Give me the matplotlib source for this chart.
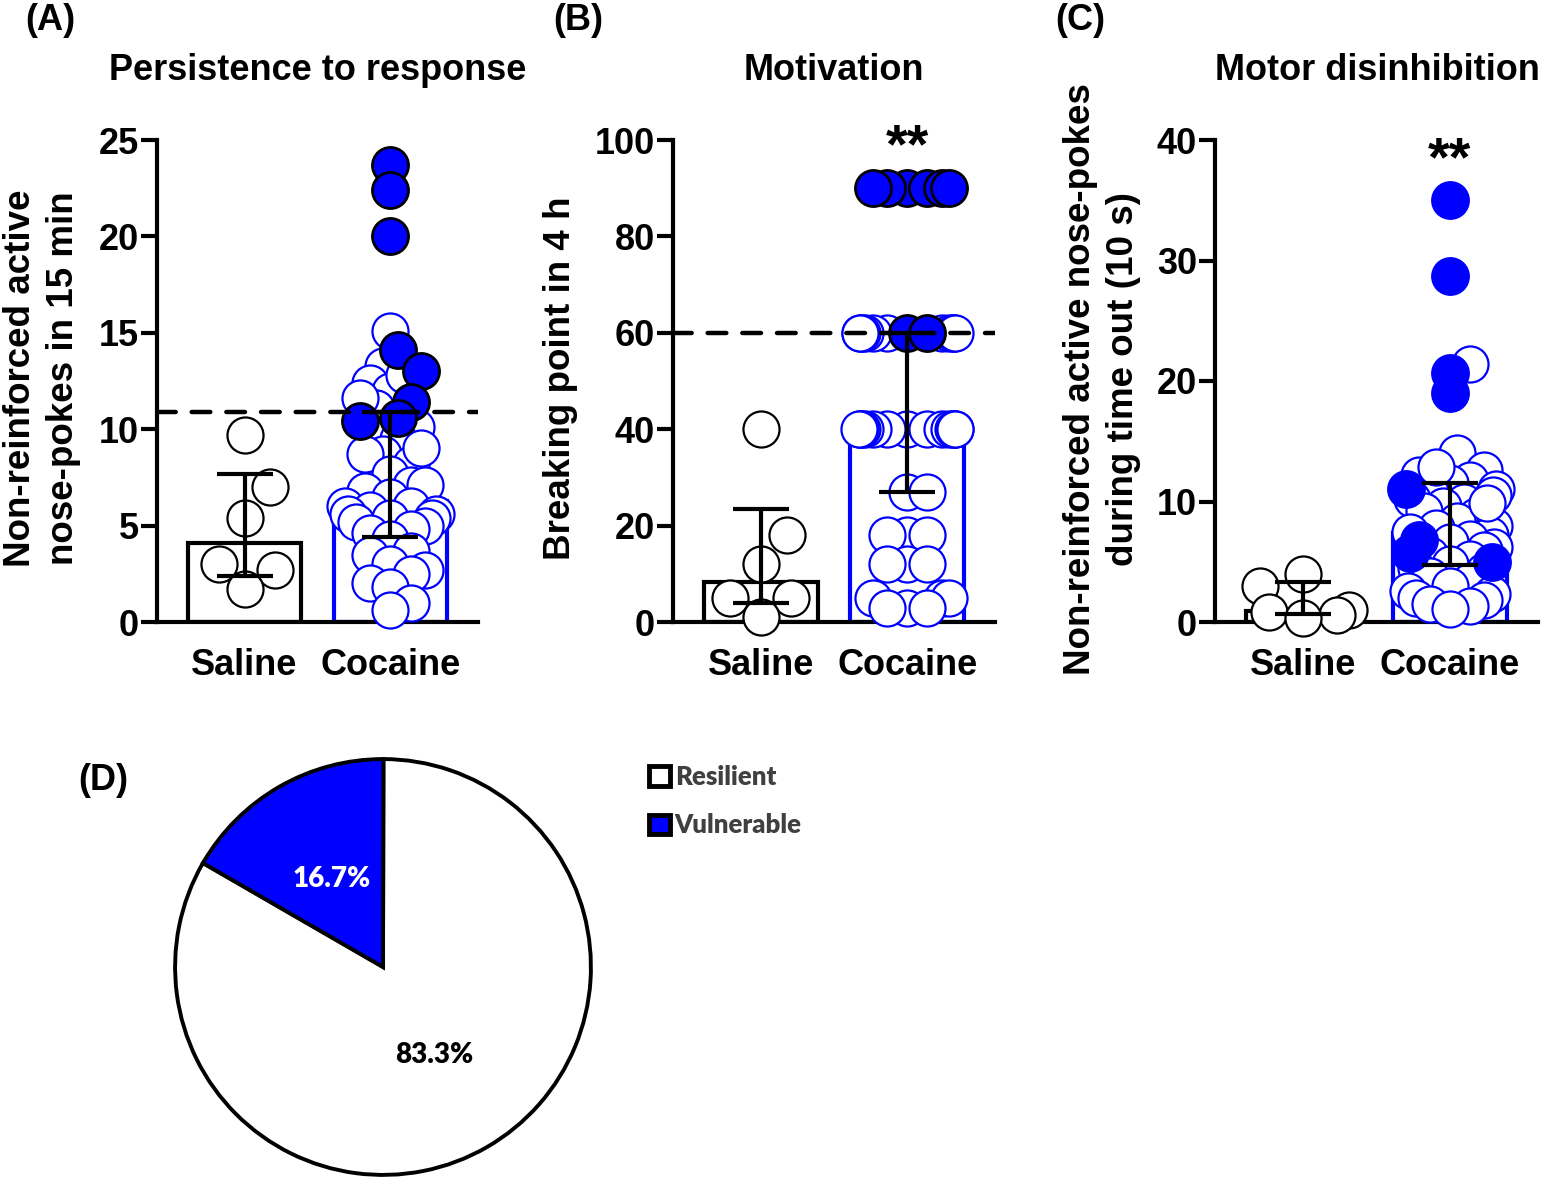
import numpy as np
import matplotlib
matplotlib.use("Agg")
import matplotlib.pyplot as plt
from matplotlib.patches import Patch

BLUE = "#0000ff"
W, H = 1546, 1183

plt.rcParams["font.family"] = ["Liberation Sans", "DejaVu Sans"]
plt.rcParams["font.weight"] = "bold"

GROUPS = ["Saline", "Cocaine"]

# (A) persistence to response
A_SAL = [9.7, 7.0, 5.4, 3.0, 2.7, 1.7]
A_COC_OPEN = [15.1, 13.3, 12.4, 12.0, 11.1, 10.1, 10.0, 9.5, 8.7, 8.7, 8.2, 7.7, 7.1, 7.1,
              6.8, 6.5, 6.0, 6.0, 5.8, 5.6, 5.6, 5.4, 5.4, 5.2, 5.0, 4.8, 4.6, 4.3, 3.7, 3.5,
              3.0, 2.7, 2.5, 2.0, 1.8, 1.0, 0.6, 12.8, 11.6, 9.0]
A_COC_VULN = [23.7, 22.4, 20.0, 14.1, 13.0, 11.4, 10.6, 10.4]
A_MEDIAN = [4.1, 6.3]
A_IQR_LOW = [2.4, 4.4]
A_IQR_HIGH = [7.7, 10.9]
A_THRESHOLD = 10.9

# (B) motivation
B_SAL = [40, 18, 12, 5, 5, 1]
B_COC_OPEN = [60] * 11 + [40] * 15 + [27] * 2 + [18] * 3 + [12] * 3 + [5] * 3 + [3] * 3
B_COC_VULN = [90] * 6 + [60] * 2
B_MEDIAN = [8.3, 40]
B_IQR_LOW = [4, 27]
B_IQR_HIGH = [23.5, 60]
B_THRESHOLD = 60

# (C) motor disinhibition
C_SAL = [4.0, 3.0, 1.0, 0.8, 0.6, 0.3]
C_COC_OPEN = [21.4, 14.0, 12.6, 12.2, 11.8, 11.5, 11.0, 10.8, 10.5, 10.2, 10.0, 9.6, 9.2, 8.8,
              8.4, 8.0, 7.8, 7.5, 7.2, 6.9, 6.6, 6.2, 6.0, 5.6, 5.2, 4.8, 4.5, 4.2, 3.8, 3.4,
              3.0, 2.6, 2.3, 2.0, 1.8, 1.5, 1.3, 1.1, 12.9, 9.9]
C_COC_VULN = [35.0, 28.7, 20.7, 19.0, 11.0, 6.8, 5.7, 5.0]
C_MEDIAN = [0.9, 7.4]
C_IQR_LOW = [0.7, 4.7]
C_IQR_HIGH = [3.3, 11.5]

# (D) pie
PIE_LABELS = ["Resilient", "Vulnerable"]
PIE_VALUES = [83.3, 16.7]

DIAM = 36  # marker diameter, px


def swarm(values, px_x, px_y, limit=48, near=0.55):
    values = np.asarray(values, dtype=float)
    offs = np.zeros(len(values))
    placed = []
    step = DIAM * 0.2
    cands = [0.0] + [s * j * step for j in range(1, 100) for s in (1, -1)]
    for i in np.argsort(values, kind="stable"):
        y = values[i] * px_y
        for c in cands:
            if all((c - px) ** 2 + (y - py) ** 2 >= (DIAM * near) ** 2 for px, py in placed):
                break
        placed.append((c, y))
        offs[i] = c
    offs = limit * np.tanh(offs / limit)
    return offs / px_x


def panel(rect, sal, coc_open, coc_vuln, med, lo, hi, ymax, step, vuln_edge, thr=None):
    ax = fig.add_axes(rect)
    ax.set_xlim(-0.6, 1.6)
    ax.set_ylim(0, ymax)
    px_x = rect[2] * W / 2.2
    px_y = rect[3] * H / ymax
    size = DIAM ** 2 * 0.52

    ax.bar([0, 1], med, width=0.775, facecolor="white", edgecolor=["black", BLUE],
           linewidth=3, zorder=1)

    xs = swarm(sal, px_x, px_y, near=1.05)
    ax.scatter(xs, sal, s=size, facecolor="white", edgecolor="black",
               linewidth=1.6, zorder=3, clip_on=False)

    allc = list(coc_vuln) + list(coc_open)
    xc = 1 + swarm(allc, px_x, px_y)
    nv = len(coc_vuln)
    ax.scatter(xc[nv:], coc_open, s=size, facecolor="white", edgecolor=BLUE,
               linewidth=1.6, zorder=3, clip_on=False)
    ax.scatter(xc[:nv], coc_vuln, s=size, facecolor=BLUE, edgecolor=vuln_edge,
               linewidth=2, zorder=4, clip_on=False)

    med = np.array(med)
    ax.errorbar([0, 1], med, yerr=[med - np.array(lo), np.array(hi) - med], fmt="none",
                ecolor="black", elinewidth=3, capsize=20, capthick=3, zorder=6)
    if thr is not None:
        ax.axhline(thr, color="black", linewidth=3.2, linestyle=(0, (4.2, 3.6)),
                   dash_capstyle="round", zorder=5)

    for s in ("top", "right"):
        ax.spines[s].set_visible(False)
    for s in ("left", "bottom"):
        ax.spines[s].set_linewidth(3)
    ticks = np.arange(0, ymax + 0.1, step)
    ax.set_yticks(ticks)
    ax.set_yticklabels([f"{int(v)}" for v in ticks])
    ax.tick_params(axis="y", length=11.5, width=3, pad=1.5, labelsize=26)
    ax.set_xticks([0, 1])
    ax.set_xticklabels(GROUPS)
    ax.tick_params(axis="x", length=0, pad=19, labelsize=26)
    for t in ax.get_xticklabels() + ax.get_yticklabels():
        t.set_fontweight("bold")
    return ax


fig = plt.figure(figsize=(W / 100, H / 100), dpi=100)


def frect(l, r, b, t):
    return [l / W, 1 - b / H, (r - l) / W, (b - t) / H]


axA = panel(frect(157, 478, 622, 140), A_SAL, A_COC_OPEN, A_COC_VULN, A_MEDIAN, A_IQR_LOW,
            A_IQR_HIGH, 25, 5, "black", A_THRESHOLD)
axB = panel(frect(673, 995, 622, 140), B_SAL, B_COC_OPEN, B_COC_VULN, B_MEDIAN, B_IQR_LOW,
            B_IQR_HIGH, 100, 20, "black", B_THRESHOLD)
axC = panel(frect(1215, 1538, 622, 140), C_SAL, C_COC_OPEN, C_COC_VULN, C_MEDIAN, C_IQR_LOW,
            C_IQR_HIGH, 40, 10, BLUE)

# titles, labels
for x, txt in [(318, "Persistence to response"), (834, "Motivation"), (1377, "Motor disinhibition")]:
    fig.text(x / W, 1 - 71 / H, txt, ha="center", va="center", fontsize=26, fontweight="bold")
for x, y, txt in [(25, 21, "(A)"), (553, 21, "(B)"), (1055, 21, "(C)"), (78, 781, "(D)")]:
    fig.text(x / W, 1 - y / H, txt, ha="left", va="center", fontsize=26, fontweight="bold")

fig.text(42 / W, 1 - 378 / H, "Non-reinforced active\nnose-pokes in 15 min", rotation=90,
         ha="center", va="center", fontsize=26.5, fontweight="bold", linespacing=1.3)
fig.text(560 / W, 1 - 378 / H, "Breaking point in 4 h", rotation=90,
         ha="center", va="center", fontsize=26.5, fontweight="bold")
fig.text(1102 / W, 1 - 379 / H, "Non-reinforced active nose-pokes\nduring time out (10 s)",
         rotation=90, ha="center", va="center", fontsize=26.5, fontweight="bold", linespacing=1.3)

axB.text(1, 92.8, "**", ha="center", va="bottom", fontsize=40, fontweight="bold")
axC.text(1, 36.1, "**", ha="center", va="bottom", fontsize=40, fontweight="bold")

# pie
axD = fig.add_axes(frect(173, 593, 1177, 757))
wedges, texts, autotexts = axD.pie(
    PIE_VALUES, colors=["white", BLUE], startangle=150, autopct="%1.1f%%", pctdistance=0.49,
    wedgeprops=dict(edgecolor="black", linewidth=2.8),
    textprops=dict(family=["Lato", "DejaVu Sans"], fontsize=20, fontweight="heavy"))
autotexts[0].set_color("black")
autotexts[1].set_color("white")
axD.set_xlim(-1.01, 1.01)
axD.set_ylim(-1.01, 1.01)

handles = [Patch(facecolor="white", edgecolor="black", linewidth=3.5),
           Patch(facecolor=BLUE, edgecolor="black", linewidth=3.5)]
leg = fig.legend(handles, PIE_LABELS, loc="upper left", bbox_to_anchor=(649 / W, 1 - 765 / H),
                 frameon=False, handlelength=0.8, handleheight=0.8, handletextpad=0.2,
                 labelspacing=0.95, borderpad=0, borderaxespad=0,
                 prop=dict(family=["Lato", "DejaVu Sans"], size=18.5, weight="heavy"))
for t in leg.get_texts():
    t.set_color("#404040")

fig.savefig("out.png", dpi=100, facecolor="white")
